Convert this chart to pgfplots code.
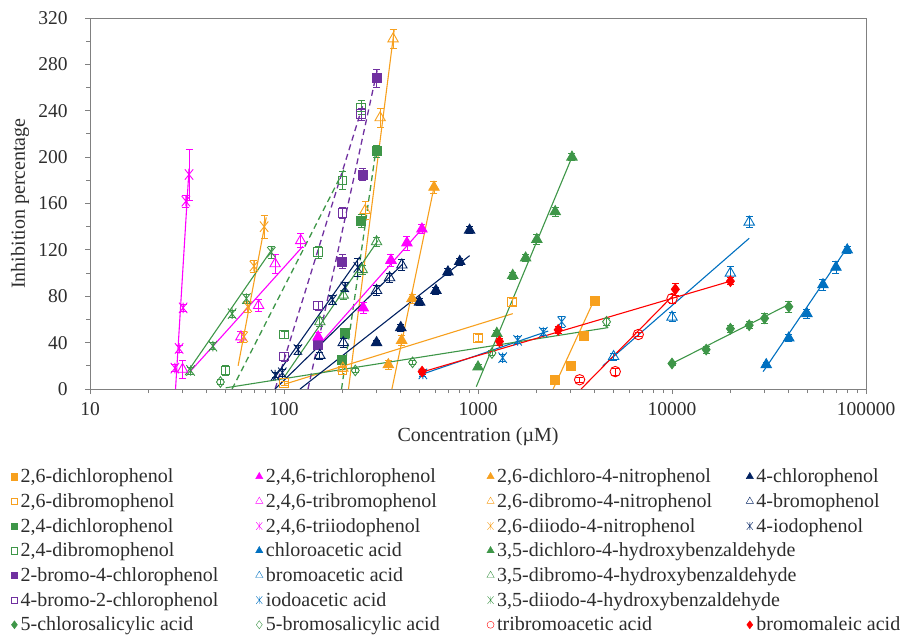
\documentclass[border=0pt]{standalone}
\usepackage{fontspec}
\setmainfont{Liberation Serif}
\usepackage{pgfplots}
\pgfplotsset{compat=1.18}
\definecolor{cor}{RGB}{247,160,30}
\definecolor{cgr}{RGB}{62,150,72}
\definecolor{cpu}{RGB}{112,48,160}
\definecolor{cnv}{RGB}{0,32,96}
\definecolor{cbl}{RGB}{0,112,192}
\definecolor{cmg}{RGB}{255,0,255}
\definecolor{crd}{RGB}{255,0,0}
\definecolor{cframe}{RGB}{128,128,128}
\definecolor{ctext}{RGB}{45,45,45}
\pgfdeclareplotmark{xstar}{%
  \pgfpathmoveto{\pgfqpoint{-0.8\pgfplotmarksize}{-\pgfplotmarksize}}%
  \pgfpathlineto{\pgfqpoint{0.8\pgfplotmarksize}{\pgfplotmarksize}}%
  \pgfpathmoveto{\pgfqpoint{-0.8\pgfplotmarksize}{\pgfplotmarksize}}%
  \pgfpathlineto{\pgfqpoint{0.8\pgfplotmarksize}{-\pgfplotmarksize}}%
  \pgfpathmoveto{\pgfqpoint{0pt}{-\pgfplotmarksize}}%
  \pgfpathlineto{\pgfqpoint{0pt}{\pgfplotmarksize}}%
  \pgfusepathqstroke}
\pgfplotsset{
  pts/.style={forget plot, only marks, line width=0.9pt, mark options={solid},
    error bars/y dir=both, error bars/y explicit,
    error bars/error bar style={line width=0.7pt, solid},
    error bars/error mark options={rotate=90, line width=0.7pt, mark size=3.5pt, solid}},
  tl/.style={forget plot, no markers, line width=1.1pt},
  dl/.style={forget plot, no markers, line width=1.3pt, dash pattern=on 6pt off 4pt},
  sq/.style={mark=square*, mark size=4.5pt},
  osq/.style={mark=square, mark size=4.3pt},
  tr/.style={mark=triangle*, mark size=6pt},
  otr/.style={mark=triangle, mark size=6pt},
  st/.style={mark=xstar, mark size=5.2pt},
  dm/.style={mark=diamond*, mark size=5.3pt},
  odm/.style={mark=diamond, mark size=5.3pt},
  oci/.style={mark=o, mark size=5.2pt},
}
\newcommand\la[1]{\makebox[235pt][l]{#1}}
\newcommand\lb[1]{\makebox[221pt][l]{#1}}
\newcommand\lc[1]{\makebox[249pt][l]{#1}}
\newcommand\ld[1]{#1}
\begin{document}
\begin{tikzpicture}
\useasboundingbox (0,0) rectangle (901pt,635pt);
\begin{axis}[
  at={(90pt,246pt)}, anchor=south west,
  scale only axis, width=776pt, height=371pt,
  xmode=log, xmin=10, xmax=100000, ymin=0, ymax=320,
  xtick={10,100,1000,10000,100000},
  xticklabels={10,100,1000,10000,100000},
  ytick={0,40,...,320}, minor y tick num=1,
  tick align=outside, xtick pos=lower, ytick pos=left,
  major tick length=5pt, minor tick length=4pt,
  axis line style={draw=cframe, line width=0.9pt},
  tick style={draw=cframe, line width=0.9pt},
  /pgf/number format/assume math mode=true,
  tick label style={font=\fontsize{19.5}{23}\selectfont, text=ctext},
  yticklabel style={xshift=-14pt},
  xticklabel style={yshift=-4.5pt},
  xlabel={Concentration (µM)}, ylabel={Inhibition percentage},
  every axis x label/.style={at={(axis description cs:0.5,-0.129)}, anchor=center, font=\fontsize{20}{24}\selectfont, text=ctext},
  every axis y label/.style={at={(axis description cs:-0.0902,0.5)}, anchor=center, rotate=90, font=\fontsize{20}{24}\selectfont, text=ctext},
  legend image code/.code={\draw[#1] plot coordinates {(0pt,1.5pt)};},
  legend cell align=left,
  legend style={at={(axis description cs:-0.1015,-0.2095)}, anchor=north west,
    draw=none, fill=none, inner sep=0pt, outer sep=0pt,
    font=\fontsize{20}{22.7}\selectfont, text=ctext, row sep=2pt,
    nodes={inner sep=0pt, text height=15.9pt, text depth=6.8pt},
    /tikz/every odd column/.append style={column sep=3pt}},
  legend columns=4,
]
% ---------- trend lines ----------
\addplot[tl, cor] coordinates {(2440,0) (4000,78)};
\addplot[tl, cor] coordinates {(100,4) (1510,65)};
\addplot[dl, cgr] coordinates {(198,0) (300,210)};
\addplot[dl, cgr] coordinates {(54,0) (205,190)};
\addplot[dl, cpu] coordinates {(133,0) (305,278)};
\addplot[dl, cpu] coordinates {(90,0) (255,245)};
\addplot[tl, cgr] coordinates {(10000,22) (40000,73)};
\addplot[tl, cmg] coordinates {(148,36) (520,139)};
\addplot[tl, cmg] coordinates {(32.8,15) (125,123)};
\addplot[tl, cmg] coordinates {(27.6,0) (32.4,190)};
\addplot[tl, cbl] coordinates {(29500,15) (80000,122)};
\addplot[tl, cbl] coordinates {(4400,20) (25000,130)};
\addplot[tl, cbl] coordinates {(500,12) (2300,50)};
\addplot[tl, cor] coordinates {(360,0) (600,178)};
\addplot[tl, cor] coordinates {(215,0) (370,310)};
\addplot[tl, cor] coordinates {(58,20) (81,148)};
\addplot[tl, cgr] coordinates {(980,2) (3050,200)};
\addplot[tl, cgr] coordinates {(100,10) (305,128)};
\addplot[tl, cgr] coordinates {(31,12) (88,122)};
\addplot[tl, cgr] coordinates {(50,1) (4700,53)};
\addplot[tl, crd] coordinates {(3400,0) (10600,84)};
\addplot[tl, crd] coordinates {(500,14) (20000,93)};
\addplot[tl, cnv] coordinates {(121,0) (905,115)};
\addplot[tl, cnv] coordinates {(90,0) (410,108)};
\addplot[tl, cnv] coordinates {(88,8) (246,114)};
% ---------- data points ----------
% 2,6-dichlorophenol
\addplot[pts, cor, sq] coordinates {(2500,8) +- (0,2) (3000,20) +- (0,3) (3500,46) +- (0,3) (4000,76) +- (0,3)};
% 2,6-dibromophenol
\addplot[pts, cor, osq] coordinates {(100,5) +- (0,2) (200,16) +- (0,3) (1000,44) +- (0,3) (1500,75) +- (0,3)};
% 2,4-dichlorophenol
\addplot[pts, cgr, sq] coordinates {(200,25) +- (0,3) (205,48) +- (0,4) (250,145) +- (0,6) (300,205) +- (0,5)};
% 2,4-dibromophenol
\addplot[pts, cgr, osq] coordinates {(50,16) +- (0,4) (100,47) +- (0,3) (150,118) +- (0,5) (200,180) +- (0,8) (250,243) +- (0,6)};
% 2-bromo-4-chlorophenol
\addplot[pts, cpu, sq] coordinates {(150,38) +- (0,4) (200,110) +- (0,6) (255,185) +- (0,5) (300,268) +- (0,8)};
% 4-bromo-2-chlorophenol
\addplot[pts, cpu, osq] coordinates {(100,28) +- (0,4) (150,72) +- (0,4) (200,152) +- (0,5) (250,237) +- (0,5)};
% 5-chlorosalicylic acid
\addplot[pts, cgr, dm] coordinates {(10000,22) +- (0,2) (15000,34) +- (0,3) (20000,52) +- (0,3) (25000,55) +- (0,3) (30000,61) +- (0,4) (40000,71) +- (0,5)};
% 2,4,6-trichlorophenol
\addplot[pts, cmg, tr] coordinates {(150,45) +- (0,4) (256,70) +- (0,5) (356,111) +- (0,5) (430,126) +- (0,6) (514,138) +- (0,4)};
% 2,4,6-tribromophenol
\addplot[pts, cmg, otr] coordinates {(30,17) +- (0,8) (60,45) +- (0,5) (74,72) +- (0,5) (90,108) +- (0,8) (122,128) +- (0,6)};
% 2,4,6-triiodophenol
\addplot[pts, cmg, st] coordinates {(27.4,18) +- (0,3) (28.8,35) +- (0,3) (30.2,70) +- (0,3) (31.2,162) +- (0,5) (32.4,185) +- (0,22)};
% chloroacetic acid
\addplot[pts, cbl, tr] coordinates {(30600,21) +- (0,2) (40000,44) +- (0,3) (49600,65) +- (0,4) (60000,90) +- (0,5) (70000,105) +- (0,5) (80000,120) +- (0,3)};
% bromoacetic acid
\addplot[pts, cbl, otr] coordinates {(5000,28) +- (0,3) (10000,62) +- (0,4) (20000,100) +- (0,6) (25000,144) +- (0,5)};
% iodoacetic acid
\addplot[pts, cbl, st] coordinates {(520,13) +- (0,2) (1340,27) +- (0,3) (1600,42) +- (0,3) (2170,49) +- (0,3) (2700,58) +- (0,5)};
% 5-bromosalicylic acid
\addplot[pts, cgr, odm] coordinates {(47,6) +- (0,2) (233,16) +- (0,2) (460,23) +- (0,2) (1180,31) +- (0,2) (4600,58) +- (0,3)};
% 2,6-dichloro-4-nitrophenol
\addplot[pts, cor, tr] coordinates {(345,21) +- (0,4) (404,42) +- (0,4) (457,78) +- (0,4) (593,174) +- (0,5)};
% 2,6-dibromo-4-nitrophenol
\addplot[pts, cor, otr] coordinates {(201,18) +- (0,3) (262,154) +- (0,8) (313,234) +- (0,8) (365,302) +- (0,8)};
% 2,6-diiodo-4-nitrophenol
\addplot[pts, cor, st] coordinates {(62,45) +- (0,5) (65,71) +- (0,5) (70,106) +- (0,5) (79,140) +- (0,10)};
% 3,5-dichloro-4-hydroxybenzaldehyde
\addplot[pts, cgr, tr] coordinates {(1000,19) +- (0,2) (1250,48) +- (0,3) (1510,98) +- (0,3) (1760,113) +- (0,3) (2010,129) +- (0,4) (2500,153) +- (0,4) (3050,200) +- (0,3)};
% 3,5-dibromo-4-hydroxybenzaldehyde
\addplot[pts, cgr, otr] coordinates {(153,58) +- (0,4) (202,81) +- (0,4) (253,103) +- (0,4) (300,127) +- (0,4)};
% 3,5-diiodo-4-hydroxybenzaldehyde
\addplot[pts, cgr, st] coordinates {(33,16) +- (0,3) (43,37) +- (0,3) (54,65) +- (0,3) (64,78) +- (0,4) (86,118) +- (0,5)};
% tribromoacetic acid
\addplot[pts, crd, oci] coordinates {(3340,8) +- (0,2) (5100,15) +- (0,3) (6700,47) +- (0,2) (10000,78) +- (0,4)};
% bromomaleic acid
\addplot[pts, crd, dm] coordinates {(515,15) +- (0,2) (1290,41) +- (0,3) (2590,51) +- (0,3) (10400,86) +- (0,5) (20000,93) +- (0,3)};
% 4-chlorophenol
\addplot[pts, cnv, tr] coordinates {(300,40) +- (0,2) (400,53) +- (0,3) (500,75) +- (0,3) (607,85) +- (0,3) (700,101) +- (0,3) (805,110) +- (0,3) (905,137) +- (0,3)};
% 4-bromophenol
\addplot[pts, cnv, otr] coordinates {(153,29) +- (0,3) (202,40) +- (0,4) (300,85) +- (0,4) (350,96) +- (0,4) (405,107) +- (0,5)};
% 4-iodophenol
\addplot[pts, cnv, st] coordinates {(90,12) +- (0,2) (98,14) +- (0,3) (118,34) +- (0,4) (178,77) +- (0,4) (206,88) +- (0,4) (240,105) +- (0,8)};
% ---------- legend ----------
\addlegendimage{only marks, cor, mark=square*, mark size=3.2pt}\addlegendentry{\la{2,6-dichlorophenol}}
\addlegendimage{only marks, cmg, mark=triangle*, mark size=4.2pt}\addlegendentry{\lb{2,4,6-trichlorophenol}}
\addlegendimage{only marks, cor, mark=triangle*, mark size=4.2pt}\addlegendentry{\lc{2,6-dichloro-4-nitrophenol}}
\addlegendimage{only marks, cnv, mark=triangle*, mark size=4.2pt}\addlegendentry{\ld{4-chlorophenol}}
\addlegendimage{only marks, cor, mark=square, mark size=3.2pt}\addlegendentry{\la{2,6-dibromophenol}}
\addlegendimage{only marks, cmg, mark=triangle, mark size=4.2pt}\addlegendentry{\lb{2,4,6-tribromophenol}}
\addlegendimage{only marks, cor, mark=triangle, mark size=4.2pt}\addlegendentry{\lc{2,6-dibromo-4-nitrophenol}}
\addlegendimage{only marks, cnv, mark=triangle, mark size=4.2pt}\addlegendentry{\ld{4-bromophenol}}
\addlegendimage{only marks, cgr, mark=square*, mark size=3.2pt}\addlegendentry{\la{2,4-dichlorophenol}}
\addlegendimage{only marks, cmg, mark=xstar, mark size=3.8pt}\addlegendentry{\lb{2,4,6-triiodophenol}}
\addlegendimage{only marks, cor, mark=xstar, mark size=3.8pt}\addlegendentry{\lc{2,6-diiodo-4-nitrophenol}}
\addlegendimage{only marks, cnv, mark=xstar, mark size=3.8pt}\addlegendentry{\ld{4-iodophenol}}
\addlegendimage{only marks, cgr, mark=square, mark size=3.2pt}\addlegendentry{\la{2,4-dibromophenol}}
\addlegendimage{only marks, cbl, mark=triangle*, mark size=4.2pt}\addlegendentry{\lb{chloroacetic acid}}
\addlegendimage{only marks, cgr, mark=triangle*, mark size=4.2pt}\addlegendentry{\lc{3,5-dichloro-4-hydroxybenzaldehyde}}
\addlegendimage{empty legend}\addlegendentry{}
\addlegendimage{only marks, cpu, mark=square*, mark size=3.2pt}\addlegendentry{\la{2-bromo-4-chlorophenol}}
\addlegendimage{only marks, cbl, mark=triangle, mark size=4.2pt}\addlegendentry{\lb{bromoacetic acid}}
\addlegendimage{only marks, cgr, mark=triangle, mark size=4.2pt}\addlegendentry{\lc{3,5-dibromo-4-hydroxybenzaldehyde}}
\addlegendimage{empty legend}\addlegendentry{}
\addlegendimage{only marks, cpu, mark=square, mark size=3.2pt}\addlegendentry{\la{4-bromo-2-chlorophenol}}
\addlegendimage{only marks, cbl, mark=xstar, mark size=3.8pt}\addlegendentry{\lb{iodoacetic acid}}
\addlegendimage{only marks, cgr, mark=xstar, mark size=3.8pt}\addlegendentry{\lc{3,5-diiodo-4-hydroxybenzaldehyde}}
\addlegendimage{empty legend}\addlegendentry{}
\addlegendimage{only marks, cgr, mark=diamond*, mark size=4pt}\addlegendentry{\la{5-chlorosalicylic acid}}
\addlegendimage{only marks, cgr, mark=diamond, mark size=4pt}\addlegendentry{\lb{5-bromosalicylic acid}}
\addlegendimage{only marks, crd, mark=o, mark size=3.5pt}\addlegendentry{\lc{tribromoacetic acid}}
\addlegendimage{only marks, crd, mark=diamond*, mark size=4pt}\addlegendentry{\ld{bromomaleic acid}}
\end{axis}
\end{tikzpicture}
\end{document}
